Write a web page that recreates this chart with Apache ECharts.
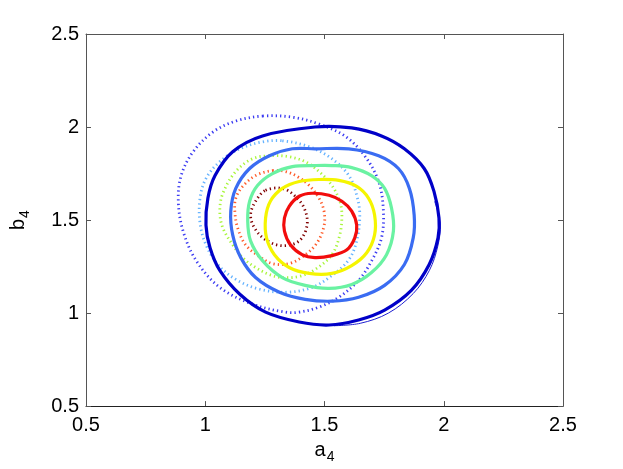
<!DOCTYPE html>
<html>
<head>
<meta charset="utf-8">
<script src="https://cdn.jsdelivr.net/npm/echarts@6/dist/echarts.min.js"></script>
<style>
html,body{margin:0;padding:0;background:#fff;}
#c{width:623px;height:469px;}
</style>
</head>
<body>
<div id="c"></div>
<script>
// Axis ticks
var xTicks = [0.5, 1, 1.5, 2, 2.5];
var yTicks = [0.5, 1, 1.5, 2, 2.5];

// Solid contours (closed curves), [a4, b4]
var solidDarkBlue = [[1.460,2.000],[1.614,1.995],[1.739,1.952],[1.835,1.883],[1.918,1.777],[1.959,1.654],[1.980,1.511],[1.976,1.404],[1.939,1.261],[1.864,1.122],[1.752,1.016],[1.643,0.963],[1.519,0.936],[1.394,0.952],[1.253,1.005],[1.145,1.101],[1.061,1.229],[1.020,1.351],[1.003,1.473],[1.011,1.617],[1.041,1.739],[1.115,1.867],[1.240,1.952]];
// thin companion contour at the lower right of the dark blue level (open arc)
var solidDarkBlueThin = [[1.962,1.600],[1.985,1.480],[1.975,1.360],[1.940,1.230],[1.872,1.105],[1.768,1.000],[1.650,0.945],[1.540,0.932]];
var solidBlue = [[1.460,1.883],[1.602,1.883],[1.727,1.846],[1.810,1.777],[1.856,1.670],[1.876,1.527],[1.872,1.404],[1.835,1.261],[1.752,1.149],[1.643,1.085],[1.531,1.064],[1.419,1.074],[1.311,1.112],[1.211,1.191],[1.149,1.298],[1.115,1.420],[1.107,1.548],[1.128,1.670],[1.186,1.777],[1.269,1.846],[1.365,1.883]];
var solidGreen = [[1.460,1.793],[1.531,1.793],[1.614,1.782],[1.697,1.739],[1.752,1.670],[1.781,1.564],[1.789,1.441],[1.760,1.314],[1.697,1.218],[1.614,1.154],[1.519,1.133],[1.419,1.149],[1.323,1.191],[1.240,1.282],[1.190,1.388],[1.178,1.495],[1.186,1.601],[1.219,1.686],[1.282,1.750],[1.365,1.787]];
var solidYellow = [[1.477,1.718],[1.560,1.713],[1.635,1.681],[1.685,1.617],[1.710,1.527],[1.710,1.420],[1.677,1.324],[1.614,1.255],[1.531,1.213],[1.436,1.213],[1.352,1.245],[1.290,1.314],[1.257,1.404],[1.253,1.511],[1.273,1.601],[1.323,1.670],[1.394,1.707]];
var solidRed = [[1.448,1.644],[1.519,1.633],[1.573,1.601],[1.614,1.548],[1.635,1.473],[1.627,1.404],[1.594,1.340],[1.531,1.309],[1.460,1.298],[1.406,1.314],[1.357,1.367],[1.332,1.441],[1.332,1.511],[1.352,1.574],[1.394,1.628]];

// Dotted contours (closed curves)
var dotDarkBlue = [[1.240,2.059],[1.365,2.053],[1.477,2.016],[1.585,1.952],[1.668,1.846],[1.727,1.707],[1.747,1.548],[1.739,1.404],[1.698,1.282],[1.643,1.176],[1.560,1.085],[1.477,1.032],[1.394,1.005],[1.336,1.005],[1.199,1.048],[1.061,1.138],[0.962,1.282],[0.907,1.441],[0.887,1.601],[0.899,1.739],[0.949,1.867],[1.032,1.973],[1.128,2.032]];
var dotLightBlue = [[1.323,1.926],[1.436,1.894],[1.531,1.830],[1.602,1.739],[1.635,1.633],[1.648,1.527],[1.635,1.388],[1.602,1.287],[1.531,1.202],[1.448,1.138],[1.344,1.112],[1.228,1.128],[1.128,1.181],[1.053,1.261],[1.003,1.367],[0.978,1.484],[0.978,1.617],[1.003,1.723],[1.061,1.814],[1.145,1.883],[1.240,1.920]];
var dotYellowGreen = [[1.282,1.846],[1.352,1.840],[1.419,1.814],[1.477,1.761],[1.531,1.686],[1.564,1.601],[1.573,1.527],[1.564,1.420],[1.531,1.314],[1.460,1.234],[1.394,1.197],[1.323,1.191],[1.269,1.207],[1.211,1.245],[1.157,1.298],[1.115,1.367],[1.074,1.457],[1.061,1.548],[1.074,1.644],[1.128,1.761],[1.199,1.830]];
var dotOrange = [[1.282,1.766],[1.336,1.761],[1.386,1.734],[1.436,1.686],[1.477,1.617],[1.498,1.548],[1.498,1.468],[1.469,1.378],[1.415,1.309],[1.352,1.266],[1.282,1.266],[1.228,1.303],[1.169,1.367],[1.136,1.457],[1.124,1.548],[1.128,1.617],[1.157,1.681],[1.211,1.739]];
var dotDarkRed = [[1.253,1.660],[1.323,1.670],[1.373,1.633],[1.415,1.564],[1.427,1.473],[1.394,1.388],[1.323,1.362],[1.253,1.394],[1.207,1.457],[1.190,1.527],[1.211,1.601]];

var FONT = '"Liberation Sans", Arial, Helvetica, sans-serif';

function contour(pts, color, width, dash, z, open) {
  return {
    type: 'custom', data: pts, encode: { x: 0, y: 1 }, z: z, silent: true, clip: true,
    renderItem: function (params, api) {
      if (params.dataIndex !== 0) return null;
      var p = pts.map(function (d) { return api.coord(d); });
      return {
        type: open ? 'polyline' : 'polygon',
        shape: { points: p, smooth: 0.35 },
        style: { fill: 'none', stroke: color, lineWidth: width, lineDash: dash || null }
      };
    }
  };
}
var DOT = [1.3, 3.1];

var axisCommon = {
  type: 'value', min: 0.5, max: 2.5, interval: 0.5,
  splitLine: { show: false },
  axisLine: { show: true, onZero: false, lineStyle: { color: '#555', width: 1 } },
  axisTick: { show: true, inside: true, length: 5, lineStyle: { color: '#555' } }
};

var chart = echarts.init(document.getElementById('c'), null, { renderer: 'canvas' });
chart.setOption({
  animation: false,
  backgroundColor: '#ffffff',
  grid: { left: 82, right: 60, top: 34, bottom: 59, containLabel: false },
  xAxis: [
    Object.assign({}, axisCommon, {
      position: 'bottom',
      axisLine: { show: true, onZero: false, lineStyle: { color: '#222', width: 1 } },
      axisLabel: { show: true, margin: 9, color: '#000', fontSize: 20, fontFamily: FONT,
        formatter: function (v) { return xTicks.indexOf(v) >= 0 ? String(v) : ''; } },
      name: '{a|a}{s|4}', nameLocation: 'middle', nameGap: 28,
      nameTextStyle: { rich: {
        a: { fontSize: 20, fontFamily: FONT, color: '#000' },
        s: { fontSize: 14, fontFamily: FONT, color: '#000', verticalAlign: 'bottom', padding: [14, 0, 0, 1] } } }
    }),
    Object.assign({}, axisCommon, { position: 'top', axisLabel: { show: false } })
  ],
  yAxis: [
    Object.assign({}, axisCommon, {
      position: 'left',
      axisLabel: { show: true, margin: 7, color: '#000', fontSize: 20, fontFamily: FONT,
        formatter: function (v) { return yTicks.indexOf(v) >= 0 ? String(v) : ''; } },
      name: '{a|b}{s|4}', nameLocation: 'middle', nameGap: 54, nameRotate: 90,
      nameTextStyle: { rich: {
        a: { fontSize: 20, fontFamily: FONT, color: '#000' },
        s: { fontSize: 14, fontFamily: FONT, color: '#000', verticalAlign: 'bottom', padding: [14, 0, 0, 1] } } }
    }),
    Object.assign({}, axisCommon, { position: 'right', axisLabel: { show: false } })
  ],
  series: [
    contour(dotDarkBlue, '#3b3bf2', 2.8, DOT, 2),
    contour(dotLightBlue, '#66b3ff', 2.8, DOT, 2),
    contour(dotYellowGreen, '#a8f53a', 2.8, DOT, 2),
    contour(dotOrange, '#ff5a28', 2.8, DOT, 2),
    contour(dotDarkRed, '#800000', 2.8, DOT, 2),
    contour(solidDarkBlueThin, '#2020d0', 1, null, 3, true),
    contour(solidDarkBlue, '#0000c8', 3.2, null, 3),
    contour(solidBlue, '#3a6cf2', 3.2, null, 3),
    contour(solidGreen, '#6af2a2', 3.2, null, 3),
    contour(solidYellow, '#f5f500', 3.2, null, 3),
    contour(solidRed, '#f20c0c', 3.2, null, 3)
  ]
});
</script>
</body>
</html>
